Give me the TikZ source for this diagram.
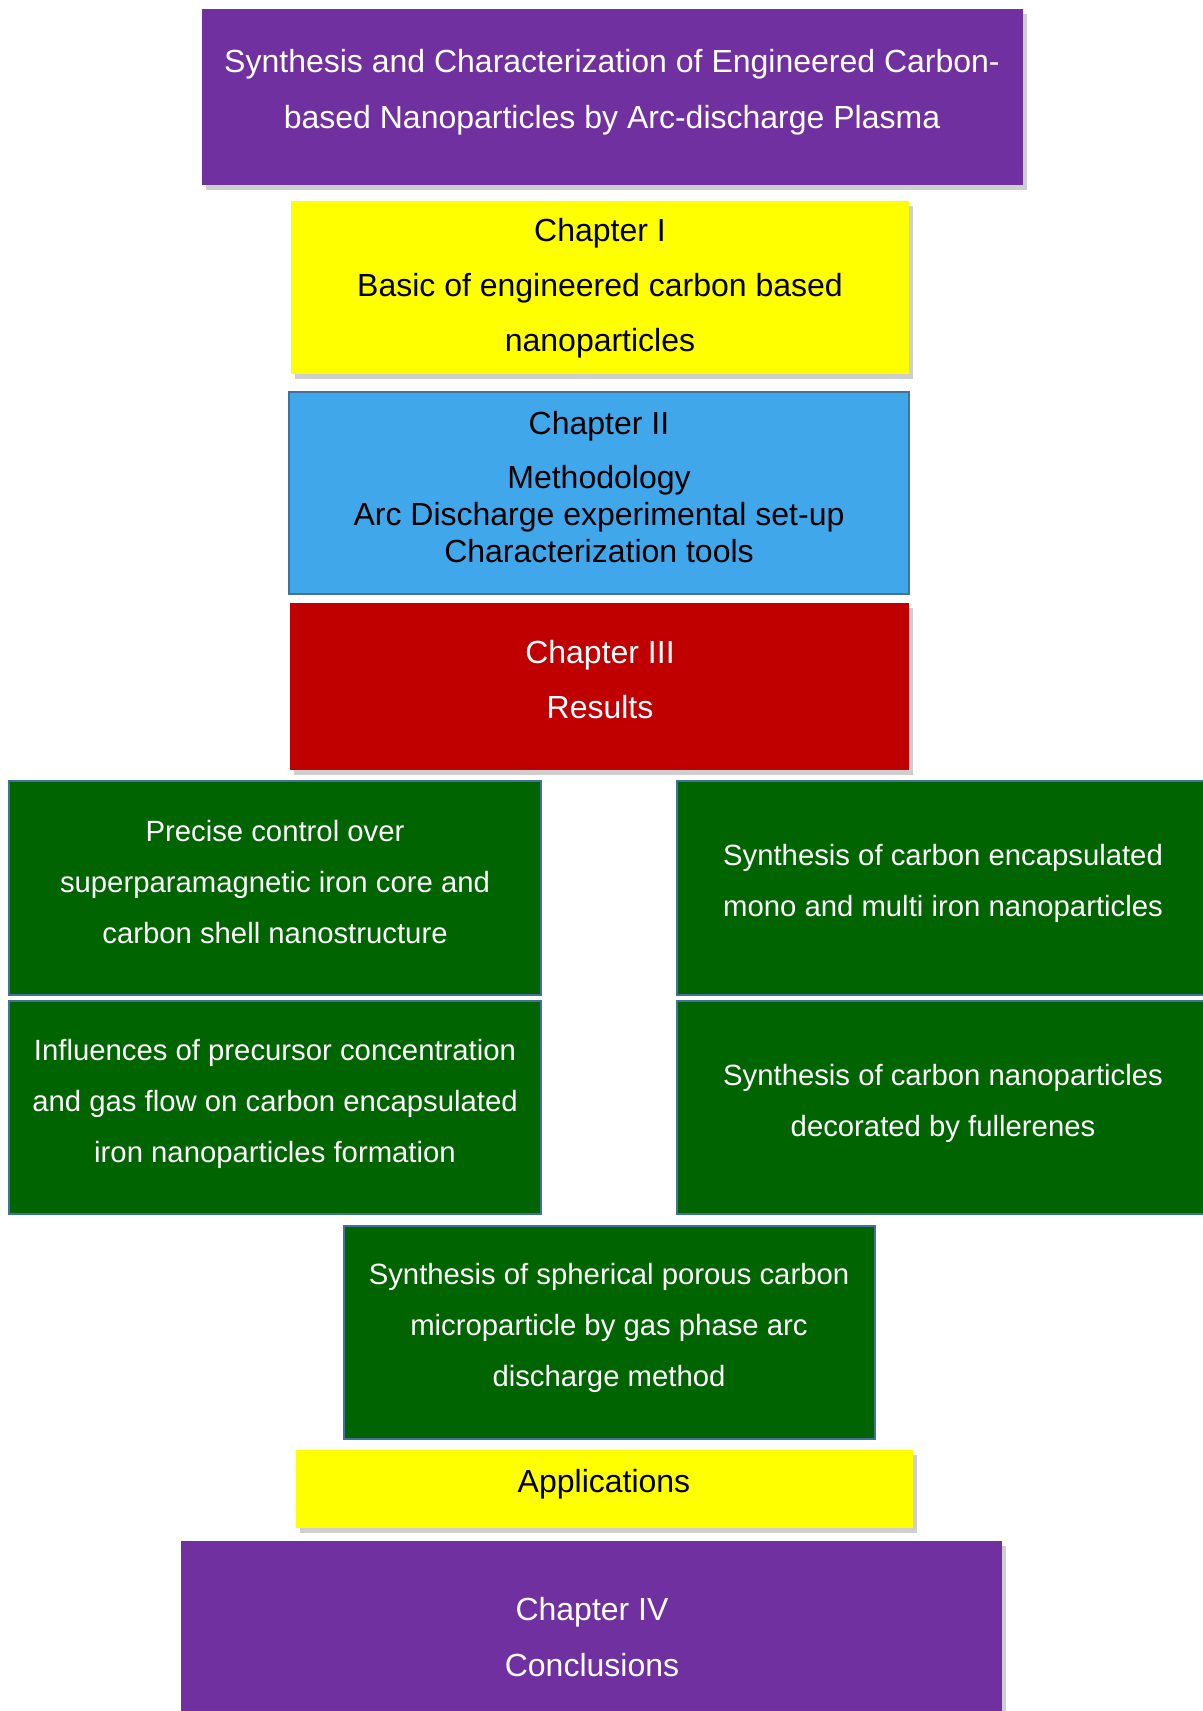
\documentclass[tikz,border=0pt]{standalone}
\usepackage{fontspec}
\setmainfont{Liberation Sans}
\usetikzlibrary{shadows}
\definecolor{purp}{RGB}{112,48,160}
\definecolor{yel}{RGB}{255,255,0}
\definecolor{sky}{RGB}{65,167,235}
\definecolor{redc}{RGB}{192,0,0}
\definecolor{grn}{RGB}{0,100,0}
\definecolor{bordc}{RGB}{65,113,156}
\begin{document}
\begin{tikzpicture}[x=1bp,y=-1bp,
  box/.style={rectangle, inner sep=0pt, outer sep=0pt},
  shad/.style={drop shadow={shadow xshift=4bp, shadow yshift=-5bp, opacity=0.35, fill=black!55}},
  edged/.style={draw=bordc, line width=2bp},
  bigtxt/.style={align=center, font=\fontsize{32bp}{56bp}\selectfont, inner sep=0pt},
  grtxt/.style={align=center, font=\fontsize{29.3bp}{51bp}\selectfont, inner sep=0pt, text=white}]
\useasboundingbox (0,0) rectangle (1202,1711);
% boxes
\node[box, shad, fill=purp, minimum width=821bp, minimum height=176bp] (title) at (612.5,97) {};
\node[box, shad, fill=yel, minimum width=618bp, minimum height=173bp] (ch1) at (600,287.5) {};
\node[box, edged, fill=sky, minimum width=620bp, minimum height=202bp] (ch2) at (599,493) {};
\node[box, shad, fill=redc, minimum width=619bp, minimum height=167bp] (ch3) at (599.5,686.5) {};
\node[box, edged, fill=grn, minimum width=532bp, minimum height=214bp] (tl) at (275,888) {};
\node[box, edged, fill=grn, minimum width=533bp, minimum height=214bp] (tr) at (943.5,888) {};
\node[box, edged, fill=grn, minimum width=532bp, minimum height=213bp] (ml) at (275,1107.5) {};
\node[box, edged, fill=grn, minimum width=533bp, minimum height=213bp] (mr) at (943.5,1107.5) {};
\node[box, edged, fill=grn, minimum width=531bp, minimum height=213bp] (bg) at (609.5,1332.5) {};
\node[box, shad, fill=yel, minimum width=617bp, minimum height=78bp] (app) at (604.5,1489) {};
\node[box, shad, fill=purp, minimum width=821bp, minimum height=179bp] (ch4) at (591.5,1630.5) {};
% texts
\node[bigtxt, text=white] (titletxt) at (612,92) {Synthesis and Characterization of Engineered Carbon-\\based Nanoparticles by Arc-discharge Plasma};
\node[bigtxt, text=black, font=\fontsize{32bp}{55bp}\selectfont] (ch1txt) at (600,288) {Chapter I\\Basic of engineered carbon based\\nanoparticles};
\node[bigtxt, text=black, font=\fontsize{32bp}{37bp}\selectfont] (ch2txt) at (599,487) {Chapter II\\[17bp]Methodology\\Arc Discharge experimental set-up\\Characterization tools};
\node[bigtxt, text=white, font=\fontsize{32bp}{55bp}\selectfont] (ch3txt) at (600,680) {Chapter III\\Results};
\node[grtxt] (tltxt) at (275,882) {Precise control over\\superparamagnetic iron core and\\carbon shell nanostructure};
\node[grtxt] (trtxt) at (943,883) {Synthesis of carbon encapsulated\\mono and multi iron nanoparticles};
\node[grtxt] (mltxt) at (275,1104) {Influences of precursor concentration\\and gas flow on carbon encapsulated\\iron nanoparticles formation};
\node[grtxt] (mrtxt) at (943,1103) {Synthesis of carbon nanoparticles\\decorated by fullerenes};
\node[grtxt] (bgtxt) at (609,1328) {Synthesis of spherical porous carbon\\microparticle by gas phase arc\\discharge method};
\node[bigtxt, text=black] (apptxt) at (604,1484) {Applications};
\node[bigtxt, text=white] (ch4txt) at (592,1637) {Chapter IV\\Conclusions};
\end{tikzpicture}
\end{document}
